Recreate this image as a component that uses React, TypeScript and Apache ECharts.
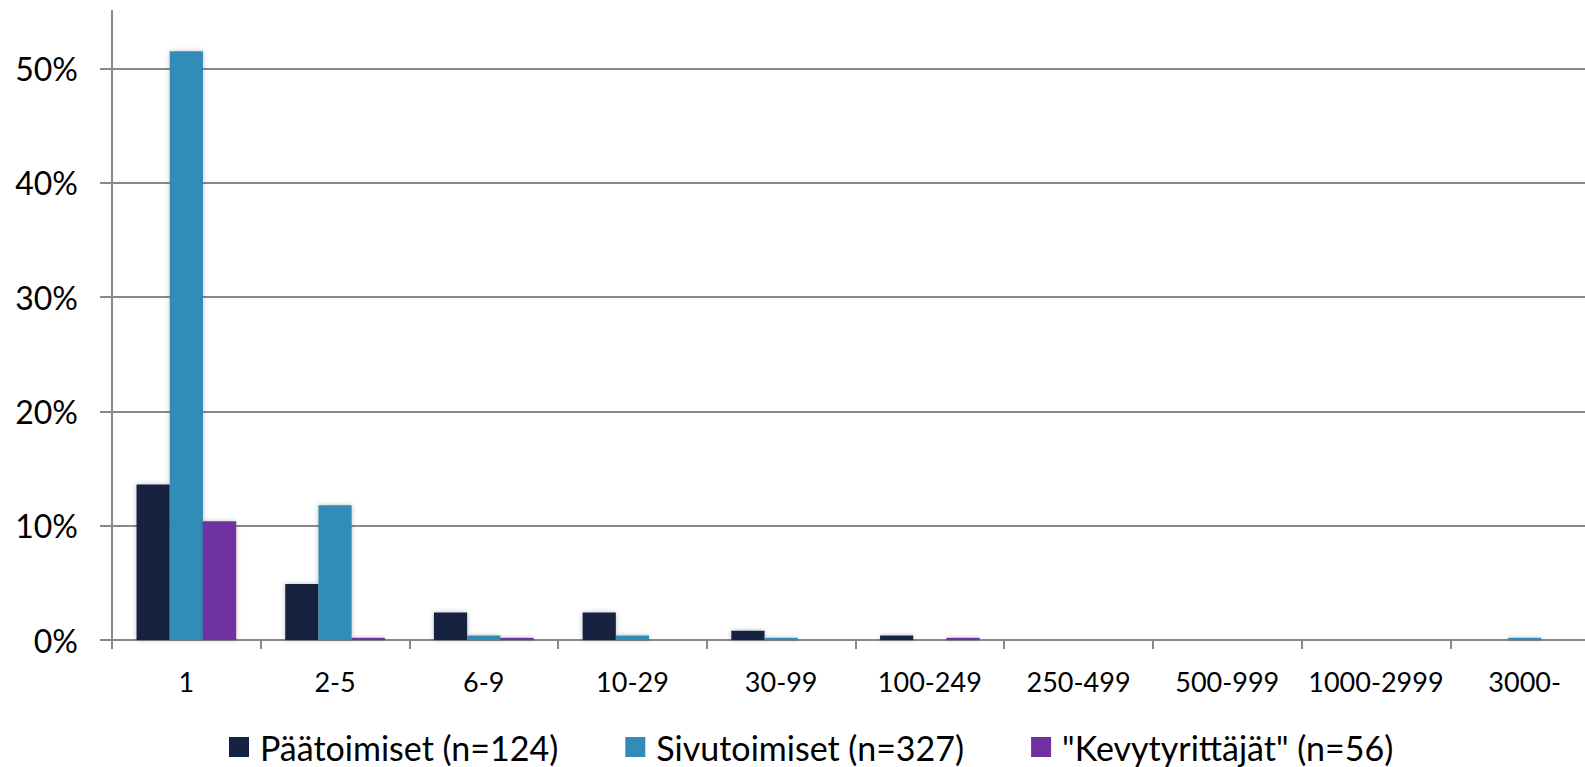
import React, { useEffect, useRef } from "react";
import * as echarts from "echarts";

const categories = ["1", "2-5", "6-9", "10-29", "30-99", "100-249", "250-499", "500-999", "1000-2999", "3000-"];
const paatoimiset = [13.6, 4.9, 2.4, 2.4, 0.8, 0.4, 0, 0, 0, 0];
const sivutoimiset = [51.5, 11.8, 0.4, 0.4, 0.2, 0, 0, 0, 0, 0.2];
const kevyt = [10.4, 0.2, 0.2, 0, 0, 0.2, 0, 0, 0, 0];
const seriesNames = ["Päätoimiset (n=124)", "Sivutoimiset (n=327)", "\"Kevytyrittäjät\" (n=56)"];
const colors = ["#142341", "#338cb8", "#7030a0"];

const FONT = "Lato";
const AXIS = "#898989";

export default function App() {
  const ref = useRef<HTMLDivElement>(null);
  useEffect(() => {
    if (!ref.current) return;
    const chart = echarts.init(ref.current, undefined, { renderer: "svg" });
    const shadow = { shadowBlur: 5, shadowColor: "rgba(0,0,0,0.25)" };
    const values = [paatoimiset, sivutoimiset, kevyt];
    chart.setOption({
      animation: false,
      backgroundColor: "#ffffff",
      textStyle: { fontFamily: FONT },
      grid: { left: 112, width: 1487, top: 68.5, height: 571.5, containLabel: false, outerBoundsMode: "none" },
      legend: {
        left: 229,
        top: 729,
        padding: 0,
        itemWidth: 20,
        itemHeight: 20,
        itemGap: 67,
        icon: "rect",
        textStyle: { fontFamily: FONT, fontSize: 34, color: "#000", lineHeight: 36, padding: [0, 0, 0, 6] },
        data: seriesNames,
      },
      xAxis: {
        type: "category",
        data: categories,
        axisLine: { lineStyle: { color: AXIS, width: 2 } },
        axisTick: { show: true, length: 9, lineStyle: { color: AXIS, width: 2 } },
        axisLabel: { color: "#000", fontSize: 27, fontFamily: FONT, margin: 28, interval: 0 },
      },
      yAxis: {
        type: "value",
        min: 0,
        max: 50,
        interval: 10,
        axisLine: { show: true, lineStyle: { color: AXIS, width: 2 } },
        axisTick: { show: true, length: 12, lineStyle: { color: AXIS, width: 2 } },
        splitLine: { show: true, lineStyle: { color: AXIS, width: 2 } },
        axisLabel: { color: "#000", fontSize: 32, fontFamily: FONT, margin: 34, formatter: "{value}%" },
      },
      graphic: [
        {
          type: "line",
          shape: { x1: 112, y1: 10, x2: 112, y2: 69 },
          style: { stroke: AXIS, lineWidth: 2 },
        },
      ],
      series: seriesNames.map((name, i) => ({
        name,
        type: "bar",
        data: values[i],
        clip: false,
        barGap: "0%",
        barCategoryGap: "33%",
        itemStyle: { color: colors[i], ...shadow },
      })),
    });
    return () => chart.dispose();
  }, []);
  return <div ref={ref} style={{ position: "fixed", left: 0, top: 0, width: 1585, height: 767 }} />;
}
